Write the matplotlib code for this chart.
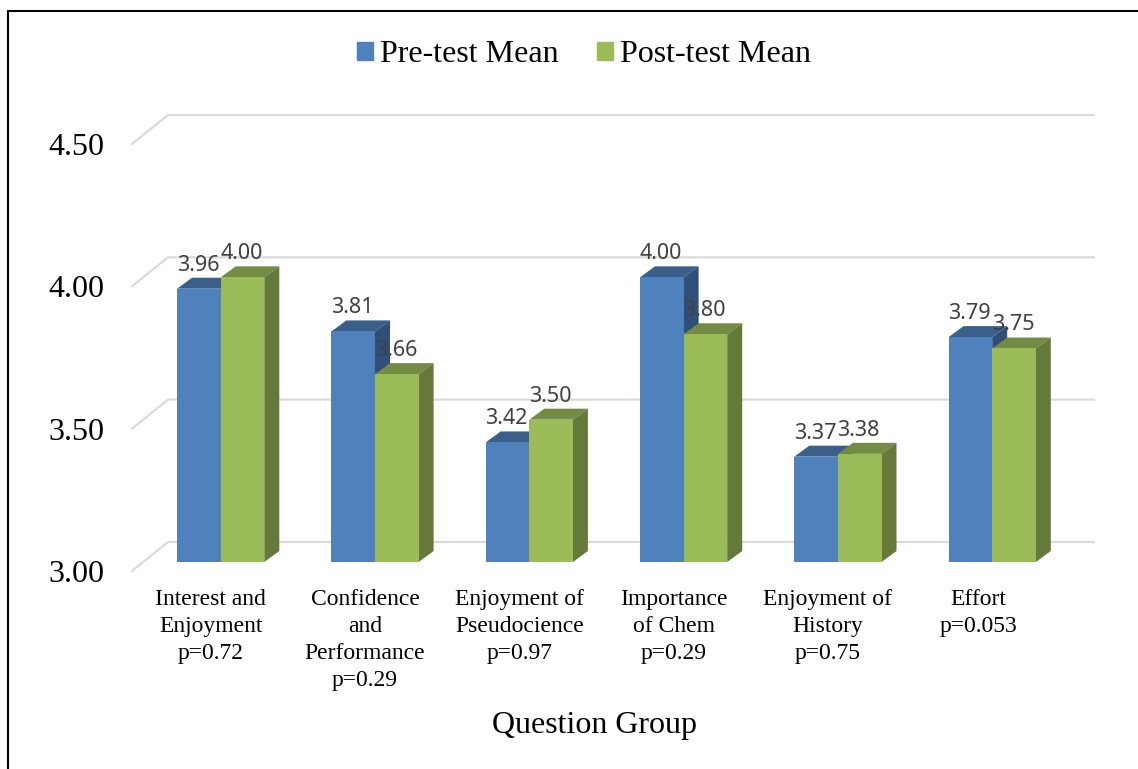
import matplotlib
matplotlib.use("Agg")
import matplotlib.pyplot as plt
import numpy as np
from matplotlib.lines import Line2D
from matplotlib.patches import Polygon, Patch
from matplotlib.transforms import ScaledTranslation

categories = ["Interest and\nEnjoyment\np=0.72", "Confidence\nand\nPerformance\np=0.29",
              "Enjoyment of\nPseudocience\np=0.97", "Importance\nof Chem\np=0.29",
              "Enjoyment of\nHistory\np=0.75", "Effort\np=0.053"]
pre_test = [3.96, 3.81, 3.42, 4.00, 3.37, 3.79]
post_test = [4.00, 3.66, 3.50, 3.80, 3.38, 3.75]
y_ticks = [3.0, 3.5, 4.0, 4.5]

W, H = 1138, 769
SERIF = "Liberation Serif"
PX_X, PX_Y = 154.3, 285.0          # pixels per data unit
dx, dy = 15 / PX_X, 11 / PX_Y      # bar depth
wx, wy = 36 / PX_X, 20 / PX_Y      # wall offset
fy = 9 / PX_Y                      # floor front offset
bw = 43.6 / PX_X

fig = plt.figure(figsize=(W / 100, H / 100), dpi=100, facecolor="white")
L, R, B, T = 132, 1094, 571, 115
ax = fig.add_axes([L / W, 1 - B / H, (R - L) / W, (B - T) / H])
ax.set_xlim((L - 220.7) / PX_X, (R - 220.7) / PX_X)
ax.set_ylim(3 - fy, 4.5 + wy)
for s in ax.spines.values():
    s.set_visible(False)
ax.patch.set_visible(False)

x = np.arange(len(categories))
x0 = ax.get_xlim()[0]
for v in y_ticks:
    ax.plot([x0, x0 + wx, ax.get_xlim()[1]], [v - fy, v + wy, v + wy], color="#D9D9D9",
            lw=1.5, zorder=1, solid_joinstyle="miter", clip_on=False)


def bars3d(lefts, vals, front, top, side, z):
    ax.bar(lefts, np.array(vals) - 3, bottom=3, width=bw, align="edge", color=front, zorder=z + 0.5)
    for l, v in zip(lefts, vals):
        r = l + bw
        ax.add_patch(Polygon([(l, v), (r, v), (r + dx, v + dy), (l + dx, v + dy)],
                             closed=True, fc=top, ec="none", zorder=z, clip_on=False))
        ax.add_patch(Polygon([(r, 3), (r, v), (r + dx, v + dy), (r + dx, 3 + dy)],
                             closed=True, fc=side, ec="none", zorder=z, clip_on=False))


BLUE, GREEN = "#4F81BD", "#9BBB59"
bars3d(x - bw, pre_test, BLUE, "#3A5F8B", "#2F4F79", 3)
bars3d(x, post_test, GREEN, "#748B43", "#64793A", 5)

for xs, vals in ((x - bw / 2, pre_test), (x + bw / 2, post_test)):
    for xi, v in zip(xs, vals):
        ax.annotate(f"{v:.2f}", (xi, v), xytext=(-1, 23.5), textcoords="offset pixels",
                    ha="center", va="center", fontsize=15.5, color="#404040",
                    family="Noto Sans", zorder=10)

ax.set_yticks(y_ticks, [f"{v:.2f}" for v in y_ticks], family=SERIF, fontsize=23, color="black")
ax.set_xticks(x, categories, family=SERIF, fontsize=17, color="black", linespacing=1.37)
ax.tick_params(axis="both", length=0)
ax.tick_params(axis="y", pad=20)
ax.tick_params(axis="x", pad=13.2)
for lab in ax.get_yticklabels():
    lab.set_transform(lab.get_transform() + ScaledTranslation(0, -9 / 100, fig.dpi_scale_trans))
for i, lab in enumerate(ax.get_xticklabels()):
    shift = -14 if i == 5 else -10
    lab.set_transform(lab.get_transform() + ScaledTranslation(shift / 100, 0, fig.dpi_scale_trans))

ax.set_xlabel("Question Group", family=SERIF, fontsize=23, va="center")
ax.xaxis.set_label_coords(594 / W, 1 - 725 / H, transform=fig.transFigure)

fig.legend(handles=[Patch(color=BLUE, label="Pre-test Mean"), Patch(color=GREEN, label="Post-test Mean")],
           loc="center", bbox_to_anchor=(584 / W, 1 - 55 / H), ncol=2, frameon=False,
           prop={"family": SERIF, "size": 23}, handlelength=0.5, handleheight=0.5,
           handletextpad=0.22, columnspacing=1.19, borderpad=0, borderaxespad=0)

fig.add_artist(Line2D([7.5 / W, 7.5 / W, 1137 / W], [0, 1 - 10.5 / H, 1 - 10.5 / H], color="black",
                      lw=1.5, solid_joinstyle="miter"))
fig.savefig("out.png", dpi=100)
